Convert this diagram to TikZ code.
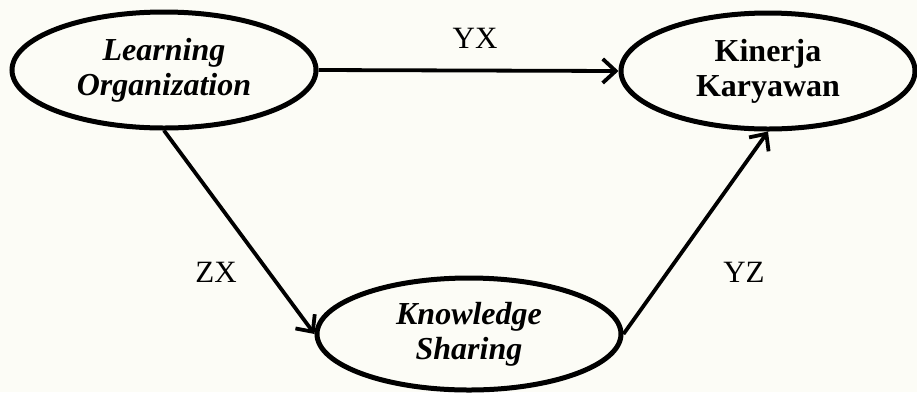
\documentclass[tikz,border=0pt]{standalone}
\usepackage{fontspec}
\setmainfont{Liberation Serif}
\usetikzlibrary{shapes.geometric,arrows.meta}
\definecolor{bgcream}{RGB}{252,252,246}
\begin{document}
\begin{tikzpicture}[x=1pt,y=-1pt,
  var/.style={ellipse,draw,line width=5pt,inner sep=0pt,align=center,
    font=\fontsize{32}{35}\selectfont},
  path/.style={line width=3.8pt,-{Straight Barb[length=13pt,width=24pt,line width=3.8pt]}},
  lbl/.style={font=\fontsize{31}{34}\selectfont,inner sep=0pt}]
\fill[bgcream] (0,0) rectangle (917,392);
\useasboundingbox (0,0) rectangle (917,392);
\node[var,minimum width=304pt,minimum height=116pt] (LO) at (164,70) {\bfseries\itshape Learning\\\bfseries\itshape Organization};
\node[var,minimum width=294pt,minimum height=116pt] (KK) at (768,71) {\bfseries Kinerja\\\bfseries Karyawan};
\node[var,minimum width=304pt,minimum height=112pt] (KS) at (469,334) {\bfseries\itshape Knowledge\\\bfseries\itshape Sharing};
\draw[path] (LO.south) -- (KS.west);
\draw[path] (LO.east) -- (KK.west);
\draw[path] (KS.east) -- (KK.south);
\node[lbl] (yx) at (475,38) {YX};
\node[lbl] (zx) at (216,272) {ZX};
\node[lbl] (yz) at (744,272) {YZ};
\end{tikzpicture}
\end{document}
